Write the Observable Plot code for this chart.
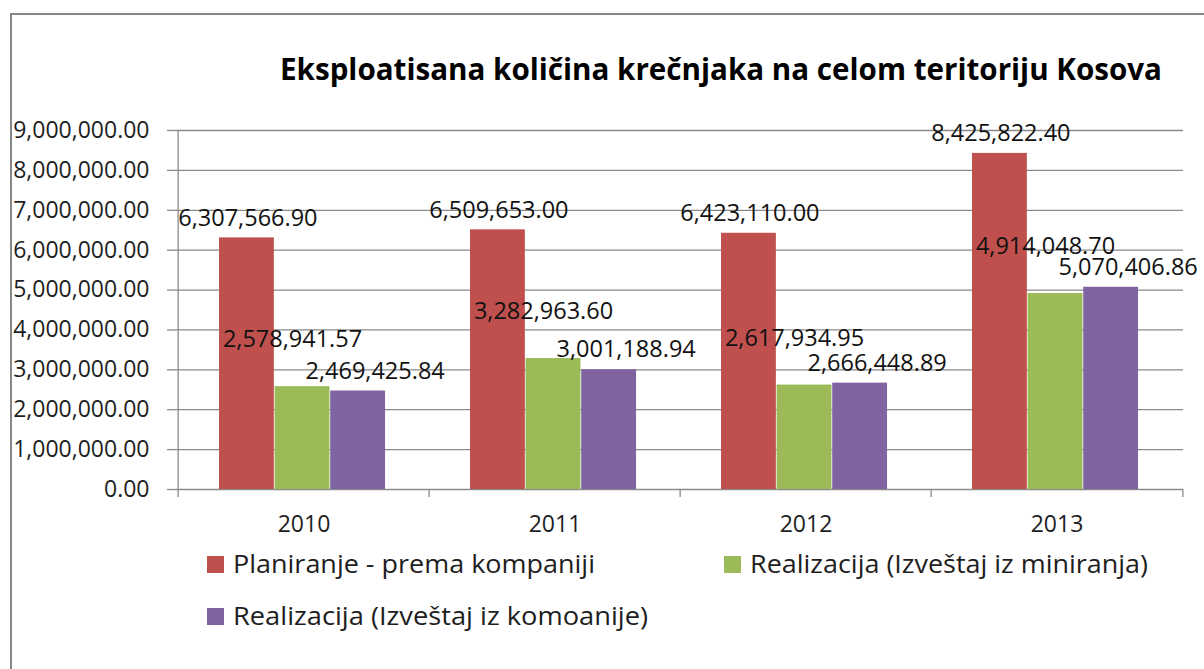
<!DOCTYPE html>
<html>
<head>
<meta charset="utf-8">
<script src="https://cdn.jsdelivr.net/npm/d3@7"></script>
<script src="https://cdn.jsdelivr.net/npm/@observablehq/plot@0.6"></script>
<style>
  html, body { margin: 0; padding: 0; background: #fff; overflow: hidden; }
  body { width: 1204px; height: 669px; position: relative; font-family: "Open Sans", sans-serif; }
  #frame { position: absolute; left: 10px; top: 13px; width: 1400px; height: 900px;
           border-left: 2.5px solid #868686; border-top: 2.5px solid #868686; z-index: 10; pointer-events: none; }
  #title { position: absolute; left: 0; top: 0; }
  #chart { position: absolute; left: 0; top: 100px; }
  #legend { position: absolute; left: 0; top: 540px; }
</style>
</head>
<body>
<div id="title"></div>
<div id="chart"></div>
<div id="legend"></div>
<div id="frame"></div>
<script>
// ---- data ----
const titleText = "Eksploatisana količina krečnjaka na celom teritoriju Kosova";
const years = ["2010", "2011", "2012", "2013"];
const seriesNames = [
  "Planiranje - prema kompaniji",
  "Realizacija (Izveštaj iz miniranja)",
  "Realizacija (Izveštaj iz komoanije)"
];
const planiranje = [6307566.90, 6509653.00, 6423110.00, 8425822.40];
const realizacijaMiniranje = [2578941.57, 3282963.60, 2617934.95, 4914048.70];
const realizacijaKompanije = [2469425.84, 3001188.94, 2666448.89, 5070406.86];
const yTicks = [0, 1000000, 2000000, 3000000, 4000000, 5000000, 6000000, 7000000, 8000000, 9000000];
const colors = ["#C0504D", "#9BBB59", "#8064A2"];

// ---- layout ----
const W = 1204, H = 440, mL = 176, mR = 21, mT = 30, mB = 51;
const bw = (W - mL - mR) / years.length;
const groupLeft = 41, barW = 55.6;
const fmt = d3.format(",.2f");
const axisGray = "#8a8a8a";
const textColor = "#1e1e1e";

const seriesValues = [planiranje, realizacijaMiniranje, realizacijaKompanije];
const labelOffsets = [[1, -19.5], [-10, -47], [17, -20]];

const marks = [];
// gridlines
marks.push(Plot.ruleY(yTicks, {y: d => d, stroke: axisGray, strokeWidth: 1.3}));
// y axis
marks.push(Plot.axisY(yTicks, {
  tickSize: 9, tickPadding: 18, tickFormat: fmt, fontSize: 23,
  stroke: axisGray, fill: textColor, strokeWidth: 1.3, label: null
}));
// x axis labels
marks.push(Plot.axisX({tickSize: 0, tickPadding: 26, fontSize: 23, fill: textColor, label: null}));
// y axis line (left edge of first category), extends down as tick
marks.push(Plot.ruleX([years[0]], {x: d => d, dx: -bw / 2, y1: 9000000, y2: 0, insetBottom: -8, stroke: axisGray, strokeWidth: 1.3}));
// category boundary ticks
marks.push(Plot.ruleX(years.slice(1), {x: d => d, dx: -bw / 2, y1: 0, y2: 0, insetBottom: -8, stroke: axisGray, strokeWidth: 1.3}));
marks.push(Plot.ruleX([years[years.length - 1]], {x: d => d, dx: bw / 2, y1: 0, y2: 0, insetBottom: -8, stroke: axisGray, strokeWidth: 1.3}));

seriesValues.forEach((vals, i) => {
  marks.push(Plot.barY(years, {
    x: d => d, y: (d, j) => vals[j], fill: colors[i],
    insetLeft: groupLeft + i * barW,
    insetRight: bw - groupLeft - (i + 1) * barW
  }));
});
seriesValues.forEach((vals, i) => {
  marks.push(Plot.text(years, {
    x: d => d, y: (d, j) => vals[j], text: (d, j) => fmt(vals[j]),
    dx: groupLeft + (i + 0.5) * barW - bw / 2 + labelOffsets[i][0],
    dy: labelOffsets[i][1],
    fontSize: 23.5, fill: "#111"
  }));
});

const chart = Plot.plot({
  width: W, height: H,
  marginLeft: mL, marginRight: mR, marginTop: mT, marginBottom: mB,
  style: {background: "transparent", fontFamily: "'Open Sans', sans-serif", color: textColor, overflow: "visible"},
  x: {domain: years, padding: 0, axis: null},
  y: {domain: [0, 9000000], axis: null},
  marks
});
document.getElementById("chart").appendChild(chart);

// ---- title ----
const tsvg = d3.select("#title").append("svg").attr("width", W).attr("height", 100);
tsvg.append("text")
  .attr("x", 280).attr("y", 80)
  .attr("font-family", "'Open Sans', sans-serif")
  .attr("font-weight", "bold").attr("font-size", 30.5)
  .attr("fill", "#000")
  .attr("textLength", 882).attr("lengthAdjust", "spacingAndGlyphs")
  .text(titleText);

// ---- legend ----
const legendItems = [
  {name: seriesNames[0], color: colors[0], x: 207, y: 16, w: 362},
  {name: seriesNames[1], color: colors[1], x: 724, y: 16, w: 398},
  {name: seriesNames[2], color: colors[2], x: 207, y: 68, w: 415}
];
const lsvg = d3.select("#legend").append("svg").attr("width", W).attr("height", 129);
legendItems.forEach(it => {
  lsvg.append("rect").attr("x", it.x).attr("y", it.y).attr("width", 17).attr("height", 17).attr("fill", it.color);
  lsvg.append("text")
    .attr("x", it.x + 26).attr("y", it.y + 17)
    .attr("font-family", "'Open Sans', sans-serif").attr("font-size", 25.5)
    .attr("fill", textColor)
    .attr("textLength", it.w).attr("lengthAdjust", "spacingAndGlyphs")
    .text(it.name);
});
</script>
</body>
</html>
